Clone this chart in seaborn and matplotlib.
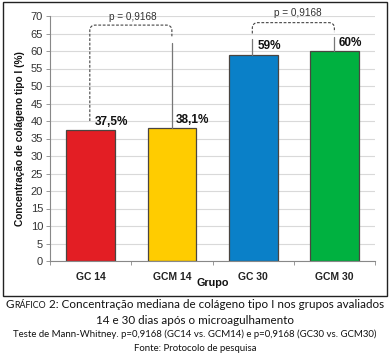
import matplotlib
matplotlib.use("Agg")
import matplotlib.pyplot as plt
import seaborn as sns
import pandas as pd
import numpy as np
from matplotlib.patches import Rectangle, PathPatch
from matplotlib.path import Path

groups = ["GC 14", "GCM 14", "GC 30", "GCM 30"]
values = [37.5, 38.1, 59.0, 60.0]
labels = ["37,5%", "38,1%", "59%", "60%"]
colors = ["#E31E24", "#FFCC00", "#0A80C8", "#00B140"]
yticks = list(range(0, 75, 5))
p_text = "p = 0,9168"
comparisons = [(0, 1), (2, 3)]

sns.set_theme(style="white")
plt.rcParams["font.family"] = ["Liberation Sans", "DejaVu Sans"]

fig = plt.figure(figsize=(3.9, 3.61), dpi=100)
ax = fig.add_axes([50/390, 1-261/361, 325/390, 245/361])

df = pd.DataFrame({"Grupo": groups, "Valor": values})
sns.barplot(data=df, x="Grupo", y="Valor", hue="Grupo", palette=colors, saturation=1,
            width=0.6, edgecolor="#4a4540", linewidth=0.9, ax=ax, legend=False)

ax.set_ylim(0, 70)
ax.set_xlim(-0.5, 3.5)
ax.set_yticks(yticks)
ax.set_yticklabels([str(t) for t in yticks], fontsize=8, color="#333333")
ax.yaxis.grid(True, color="#d9d9d9", lw=0.8)
ax.set_axisbelow(True)
ax.tick_params(axis="y", length=3, width=0.6, color="#888888", pad=2, left=True)
ax.set_xticks(range(4))
ax.set_xticklabels(groups, fontsize=7.5, fontweight="bold", color="#222222")
ax.tick_params(axis="x", length=0, pad=8)
ax.set_xticks([-0.5, 0.5, 1.5, 2.5, 3.5], minor=True)
ax.tick_params(axis="x", which="minor", length=3, width=0.6, color="#888888", bottom=True)
for s in ["top", "right"]:
    ax.spines[s].set_visible(False)
for s in ["left", "bottom"]:
    ax.spines[s].set_color("#888888")
    ax.spines[s].set_linewidth(0.8)

ax.set_ylabel("Concentração de colágeno tipo I (%)", fontsize=7.3, fontweight="bold",
              color="#111111", labelpad=4)
ax.set_xlabel("Grupo", fontsize=7.8, fontweight="bold", color="#111111")
ax.xaxis.label.set_va("center")
ax.xaxis.set_label_coords(0.5, -22/245)

for i, (v, lab) in enumerate(zip(values, labels)):
    ax.text(i + 0.05, v + 2.3, lab, fontsize=8.5, fontweight="bold",
            ha="left", va="center", color="#111111")

def bracket(a, b, top, left_bottom, right_bottom):
    rx, ry = 0.07, 1.6
    verts = [(a, left_bottom), (a, top - ry), (a, top), (a + rx, top),
             (b - rx, top), (b, top), (b, top - ry), (b, right_bottom)]
    codes = [Path.MOVETO, Path.LINETO, Path.CURVE3, Path.CURVE3,
             Path.LINETO, Path.CURVE3, Path.CURVE3, Path.LINETO]
    ax.add_patch(PathPatch(Path(verts, codes), fill=False, ls=(0, (2.5, 1.5)),
                           lw=0.8, ec="#444444", clip_on=False))

a, b = comparisons[0]
bracket(a - 0.01, b, 67.4, 40.0, 64.2)
ax.plot([b, b], [values[b], 62.3], color="#777777", lw=0.9, clip_on=False)
ax.text((a + b) / 2 + 0.02, 69.6, p_text, fontsize=7.2, ha="center", va="center",
        color="#333333")

a, b = comparisons[1]
bracket(a - 0.01, b, 68.1, 65.0, 65.4)
ax.plot([a - 0.01, a - 0.01], [values[a], 63.4], color="#777777", lw=0.9, clip_on=False)
ax.plot([b, b], [values[b], 64.0], color="#777777", lw=0.9, clip_on=False)
ax.text((a + b) / 2 + 0.05, 70.8, p_text, fontsize=7.2, ha="center", va="center",
        color="#333333")

fig.patches.append(Rectangle((3/390, 1-296/361), 384/390, 294/361, transform=fig.transFigure,
                             fill=False, ec="#222222", lw=1.0))

cap = ["Lato", "DejaVu Sans"]
pieces = [("G", 8.4), ("RÁFICO", 6.4), (" 2: Concentração mediana de colágeno tipo I nos grupos avaliados", 8.4)]
renderer = fig.canvas.get_renderer()
ypos = 1 - 308/361
tmp = []
x = 0.0
for txt, fs in pieces:
    t = fig.text(x, ypos, txt, ha="left", va="baseline", fontsize=fs, family=cap, color="#111111")
    bb = t.get_window_extent(renderer)
    tmp.append((t, bb.width))
    x += bb.width / fig.bbox.width
xx = 0.5 - x / 2
for t, w in tmp:
    t.set_x(xx)
    xx += w / fig.bbox.width
fig.text(0.5, 1-324/361, "14 e 30 dias após o microagulhamento",
         ha="center", va="baseline", fontsize=8.4, family=cap, color="#111111")
fig.text(0.5, 1-337/361, "Teste de Mann-Whitney. p=0,9168 (GC14 vs. GCM14) e p=0,9168 (GC30 vs. GCM30)",
         ha="center", va="baseline", fontsize=6.9, family=cap, color="#111111")
fig.text(0.5, 1-351/361, "Fonte: Protocolo de pesquisa",
         ha="center", va="baseline", fontsize=6.9, family=cap, color="#111111")

fig.savefig("out.png", dpi=100)
